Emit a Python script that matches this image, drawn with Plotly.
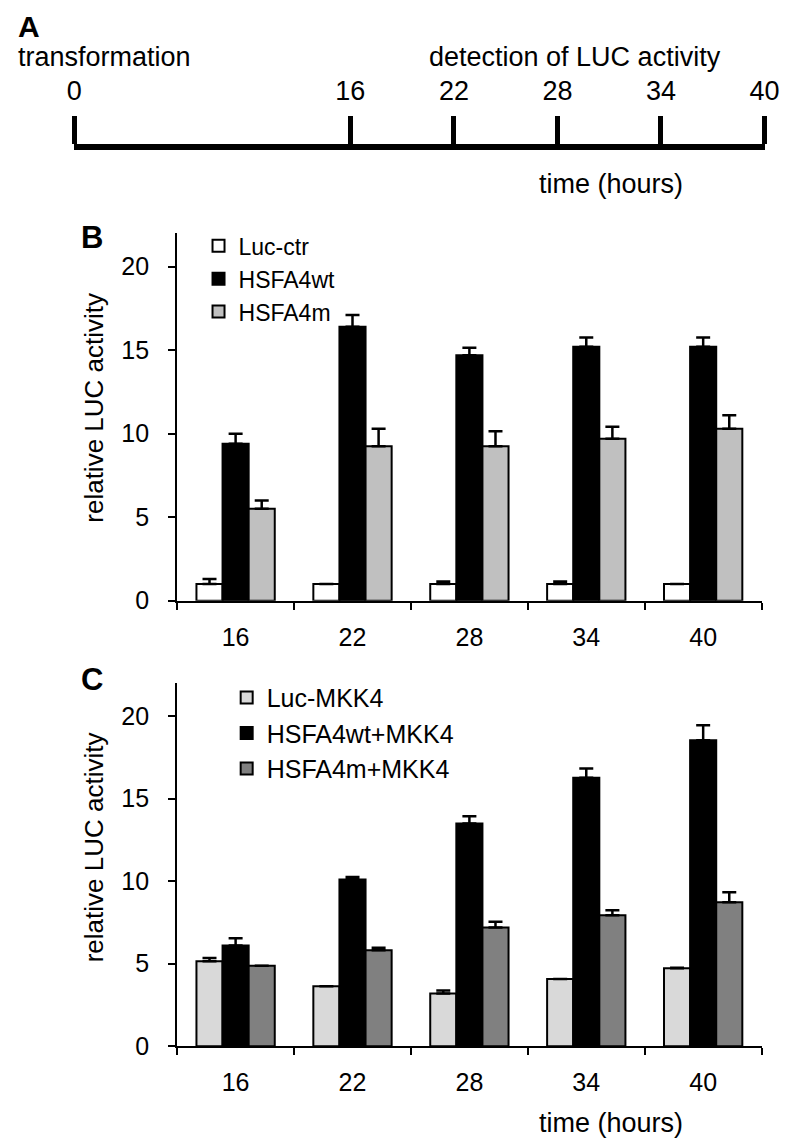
import plotly.graph_objects as go

W, H = 789, 1147
FONT = "Liberation Sans, Arial, sans-serif"

# ---------------- data ----------------
timeline_hours = [0, 16, 22, 28, 34, 40]
timepoints = ["16", "22", "28", "34", "40"]

# Panel B
b_names = ["Luc-ctr", "HSFA4wt", "HSFA4m"]
b_luc_ctr = [1.0, 1.0, 1.0, 1.0, 1.0]
b_luc_ctr_err = [0.3, 0.0, 0.15, 0.15, 0.0]
b_wt = [9.4, 16.4, 14.7, 15.2, 15.2]
b_wt_err = [0.6, 0.7, 0.45, 0.55, 0.55]
b_m = [5.5, 9.25, 9.25, 9.7, 10.3]
b_m_err = [0.5, 1.05, 0.9, 0.72, 0.8]

# Panel C
c_names = ["Luc-MKK4", "HSFA4wt+MKK4", "HSFA4m+MKK4"]
c_luc = [5.15, 3.63, 3.2, 4.07, 4.72]
c_luc_err = [0.2, 0.0, 0.17, 0.0, 0.03]
c_wt = [6.1, 10.1, 13.5, 16.27, 18.55]
c_wt_err = [0.45, 0.15, 0.44, 0.56, 0.9]
c_m = [4.88, 5.81, 7.2, 7.94, 8.73]
c_m_err = [0.0, 0.15, 0.34, 0.3, 0.6]

b_colors = ["#ffffff", "#000000", "#c0c0c0"]
c_colors = ["#d9d9d9", "#000000", "#808080"]


def px(x):
    return x / W


def py(y):
    return 1 - y / H


fig = go.Figure()


def add_bars(names, vals, errs, colors, xa, ya, legend):
    for i, (n, v, e, c) in enumerate(zip(names, vals, errs, colors)):
        fig.add_trace(go.Bar(
            x=timepoints, y=v, name=n,
            marker=dict(color=c, line=dict(color="#000000", width=2)),
            error_y=dict(type="data", array=e, arrayminus=[0] * len(e),
                         symmetric=False, color="#000000", thickness=2.5, width=7),
            xaxis=xa, yaxis=ya, legend=legend, legendgroup=legend + str(i),
        ))


add_bars(b_names, [b_luc_ctr, b_wt, b_m], [b_luc_ctr_err, b_wt_err, b_m_err],
         b_colors, "x", "y", "legend")
add_bars(c_names, [c_luc, c_wt, c_m], [c_luc_err, c_wt_err, c_m_err],
         c_colors, "x2", "y2", "legend2")

# Panel A timeline (invisible trace to anchor the axis)
fig.add_trace(go.Scatter(x=timeline_hours, y=[0] * len(timeline_hours), mode="markers",
                         marker=dict(opacity=0), showlegend=False, hoverinfo="skip",
                         xaxis="x3", yaxis="y3"))

xdom = [px(166), px(768)]
common_x = dict(type="category", tickson="boundaries", ticks="outside", ticklen=7,
                tickwidth=2, tickcolor="#000", showline=True, linecolor="#000",
                linewidth=2, showgrid=False, zeroline=False, domain=xdom,
                tickfont=dict(family=FONT, size=25, color="#000"),
                ticklabelstandoff=13, range=[-0.5, 4.5])
common_y = dict(range=[0, 22], tickvals=[0, 5, 10, 15, 20], ticks="outside", ticklen=7,
                tickwidth=2, tickcolor="#000", showline=True, linecolor="#000",
                linewidth=2, showgrid=False, zeroline=False,
                tickfont=dict(family=FONT, size=25, color="#000"),
                ticklabelstandoff=14)

fig.update_layout(
    width=W, height=H,
    margin=dict(l=0, r=0, t=0, b=0),
    paper_bgcolor="#ffffff", plot_bgcolor="#ffffff",
    barmode="group", bargap=0.33, bargroupgap=0,
    font=dict(family=FONT, color="#000"),
    xaxis=dict(**common_x, anchor="y"),
    yaxis=dict(**common_y, domain=[py(600), py(228)], anchor="x"),
    xaxis2=dict(**common_x, anchor="y2"),
    yaxis2=dict(**common_y, domain=[py(1051), py(683.6)], anchor="x2"),
    xaxis3=dict(range=[0, 40], domain=[px(60), px(771)], side="top", anchor="y3",
                tickvals=timeline_hours, ticks="outside", ticklen=28, tickwidth=5,
                tickcolor="#000", showline=True, linecolor="#000", linewidth=6,
                showgrid=False, zeroline=False, ticklabelstandoff=5,
                tickfont=dict(family=FONT, size=27, color="#000")),
    yaxis3=dict(domain=[py(160), py(144)], visible=False, range=[0, 1], anchor="x3"),
    legend=dict(x=px(188), y=py(219), xanchor="left", yanchor="top",
                font=dict(family=FONT, size=23, color="#000"),
                bgcolor="rgba(0,0,0,0)", tracegroupgap=0, traceorder="normal"),
    legend2=dict(x=px(217), y=py(675), xanchor="left", yanchor="top",
                 font=dict(family=FONT, size=25, color="#000"),
                 bgcolor="rgba(0,0,0,0)", tracegroupgap=4, traceorder="normal"),
    showlegend=True,
)

ann = []


def txt(t, x, y, size, bold=False, angle=0, xanchor="center"):
    ann.append(dict(text=("<b>%s</b>" % t) if bold else t, x=px(x), y=py(y),
                    xref="paper", yref="paper", showarrow=False, xanchor=xanchor,
                    yanchor="middle", textangle=angle,
                    font=dict(family=FONT, size=size, color="#000")))


txt("A", 0, 19, 30, bold=True, xanchor="left")
txt("transformation", 0, 50, 27, xanchor="left")
txt("detection of LUC activity", 423, 50, 27, xanchor="left")
txt("time (hours)", 613, 178, 27)
txt("B", 78, 232, 31, bold=True)
txt("relative LUC activity", 80, 405, 26, angle=-90)
txt("C", 78, 680, 31, bold=True)
txt("relative LUC activity", 80, 850, 26, angle=-90)
txt("time (hours)", 613, 1129, 27)

fig.update_layout(annotations=ann)
fig.write_html("out.html")
